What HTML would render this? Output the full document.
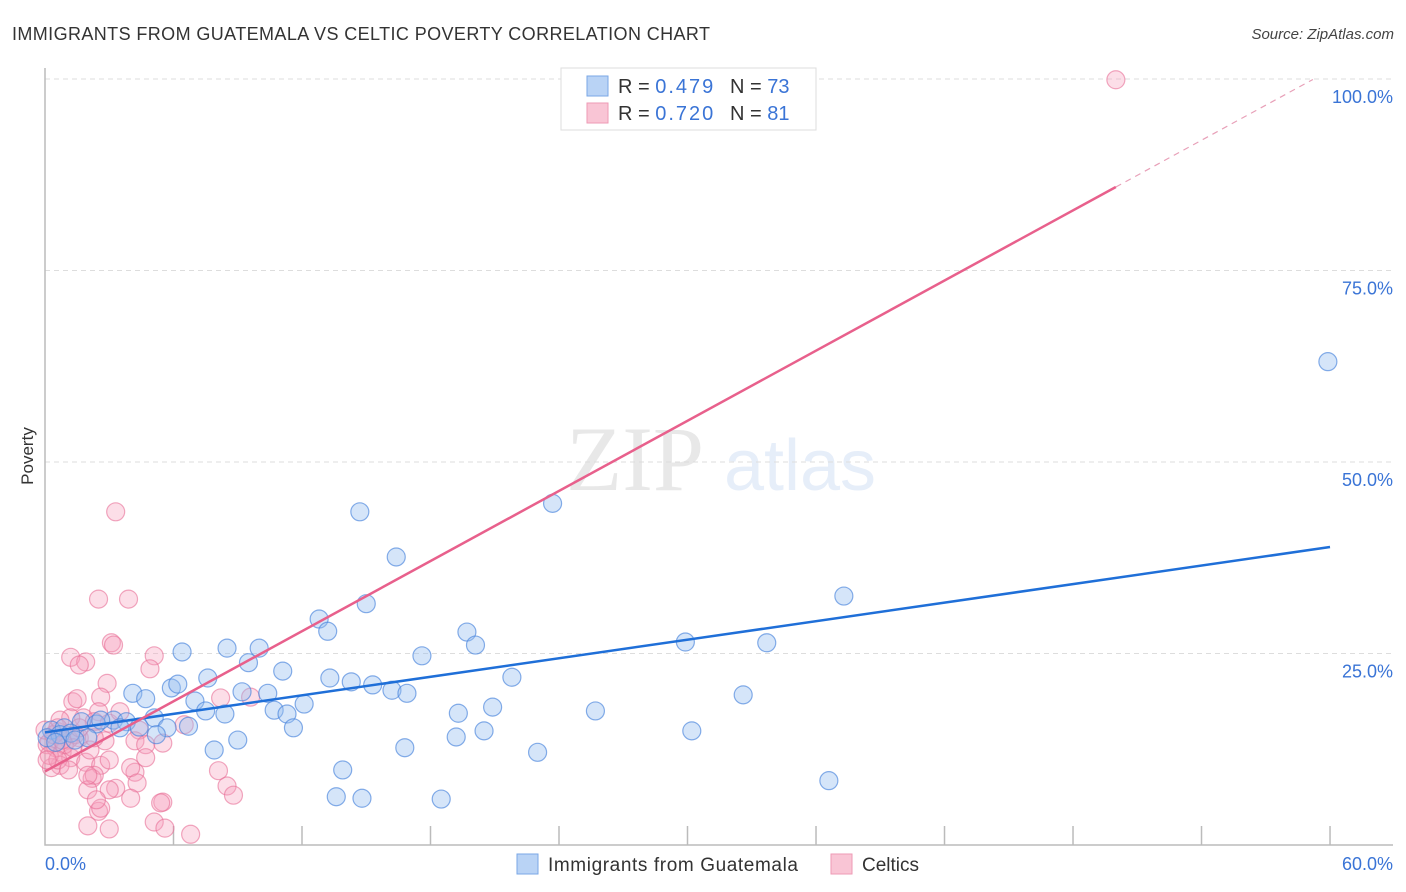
<!DOCTYPE html>
<html><head><meta charset="utf-8"><style>
body{margin:0;background:#fff;font-family:"Liberation Sans",sans-serif;}
svg{display:block}
</style></head><body>
<svg id="chart" width="1406" height="892" xmlns="http://www.w3.org/2000/svg">
<text x="12" y="40" font-size="18" fill="#333" textLength="698" lengthAdjust="spacing">IMMIGRANTS FROM GUATEMALA VS CELTIC POVERTY CORRELATION CHART</text>
<text x="1394" y="39" font-size="15" fill="#444" text-anchor="end" font-style="italic">Source: ZipAtlas.com</text>
<text transform="translate(33,456) rotate(-90)" font-size="17" fill="#333" text-anchor="middle">Poverty</text>
<g opacity="0.13">
<text x="635" y="490" font-size="92" fill="#555" font-family="Liberation Serif, serif" text-anchor="middle">ZIP</text>
<text x="800" y="490" font-size="72" fill="#4a7fd4" text-anchor="middle">atlas</text>
</g>
<g id="grid"></g>
<g id="axes"></g>
<g id="marks"></g>
<g>
<rect x="561" y="68" width="255" height="62" fill="#fff" stroke="#ddd"/>
<rect x="587" y="76" width="21" height="20" fill="#b9d3f5" stroke="#7aa7e6"/>
<rect x="587" y="103" width="21" height="20" fill="#f9c5d5" stroke="#ee9ab5"/>
<text x="618" y="93" font-size="20" fill="#333">R = <tspan fill="#3a74d6" textLength="58">0.479</tspan></text>
<text x="730" y="93" font-size="20" fill="#333">N = <tspan fill="#3a74d6">73</tspan></text>
<text x="618" y="120" font-size="20" fill="#333">R = <tspan fill="#3a74d6" textLength="58">0.720</tspan></text>
<text x="730" y="120" font-size="20" fill="#333">N = <tspan fill="#3a74d6"> 81</tspan></text>
</g>
<g>
<rect x="517" y="854" width="21" height="20" fill="#b9d3f5" stroke="#7aa7e6"/>
<text x="548" y="871" font-size="19" fill="#333" textLength="250" lengthAdjust="spacing">Immigrants from Guatemala</text>
<rect x="831" y="854" width="21" height="20" fill="#f9c5d5" stroke="#ee9ab5"/>
<text x="862" y="871" font-size="19" fill="#333">Celtics</text>
</g>
</svg>
<script>
const blueX=[59.9,23.7,14.7,16.4,37.3,15.0,12.8,13.2,19.7,20.1,29.9,33.7,8.5,10.0,6.4,17.6,9.5,7.6,11.1,21.8,13.3,14.3,15.3,4.1,5.9,6.2,9.2,10.4,16.2,16.9,4.7,32.6,7.0,12.1,10.7,7.5,8.4,11.3,19.3,20.9,25.7,5.1,3.2,3.8,1.7,2.4,2.6,5.7,3.5,6.7,11.6,4.4,0.3,0.9,5.2,20.5,19.2,30.2,9.0,2.0,7.9,16.8,23.0,13.9,36.6,13.6,14.8,18.5,0.7,0.1,1.2,1.4,0.5];
const blueY=[63.1,44.6,43.5,37.6,32.5,31.5,29.5,27.9,27.8,26.1,26.5,26.4,25.7,25.7,25.2,24.7,23.8,21.8,22.7,21.9,21.8,21.3,20.9,19.8,20.5,21.0,20.0,19.8,20.2,19.8,19.1,19.6,18.8,18.4,17.6,17.5,17.1,17.1,17.2,18.0,17.5,16.6,16.3,16.1,16.1,15.8,16.3,15.3,15.3,15.5,15.3,15.4,15.0,15.3,14.4,14.9,14.1,14.9,13.7,14.0,12.4,12.7,12.1,9.8,8.4,6.3,6.1,6.0,14.4,14.0,14.6,13.7,13.4];
const pinkX=[50.0,3.3,2.5,3.9,3.1,3.2,1.2,1.9,1.6,5.1,4.9,2.9,2.6,1.3,1.5,8.2,9.6,2.5,1.8,1.2,2.3,3.0,6.5,4.4,2.8,4.2,1.6,1.1,0.6,0.2,0.1,0.5,0.8,1.2,1.9,0.7,0.3,0.0,0.2,2.1,2.6,2.2,4.2,4.0,2.3,3.3,4.3,2.0,8.1,8.5,8.8,4.0,5.5,5.4,2.5,2.6,2.0,3.0,5.1,5.6,6.8,4.7,0.7,1.4,0.9,0.6,1.6,3.5,2.3,0.4,3.0,1.1,4.7,5.5,2.0,3.0,2.4,0.6,1.3,0.1,0.8];
const pinkY=[99.9,43.5,32.1,32.1,26.4,26.1,24.5,23.9,23.5,24.7,23.0,21.1,19.3,18.7,19.1,19.2,19.3,17.4,16.6,16.6,16.1,15.9,15.7,15.0,13.6,13.6,14.0,13.8,14.8,13.4,13.1,12.7,12.1,11.4,10.8,10.4,10.1,15.0,11.7,12.4,10.4,8.7,9.5,10.1,9.1,7.4,8.1,7.2,9.7,7.7,6.5,6.1,5.6,5.5,4.4,4.8,2.5,2.1,3.0,2.2,1.4,13.1,16.3,14.4,13.1,11.1,15.3,17.4,14.0,14.4,11.1,9.8,11.4,13.3,9.1,7.2,5.9,15.3,12.7,11.1,13.7];
const blueTrendX=[0,60];
const blueTrendY=[14.7,38.9];
const pinkTrendX=[0,50];
const pinkTrendY=[9.6,85.9];
const pinkDashEndX=59.2;
const yTicks=[25,50,75,100];
const yTickLabels=["25.0%","50.0%","75.0%","100.0%"];
const xTicks=[0,6,12,18,24,30,36,42,48,54,60];

const NS="http://www.w3.org/2000/svg";
const sx=v=>45+v*21.417;
const sy=v=>845-v*7.66;
function mk(tag,attrs,parent){const e=document.createElementNS(NS,tag);for(const k in attrs)e.setAttribute(k,attrs[k]);parent.appendChild(e);return e;}
const grid=document.getElementById('grid'),axes=document.getElementById('axes'),marks=document.getElementById('marks');
yTicks.forEach((t,i)=>{
  const l=mk('line',{x1:45,x2:1393,y1:sy(t),y2:sy(t),stroke:'#ddd','stroke-dasharray':'5,4'},grid);
  
  
  const tx=mk('text',{x:1393,y:sy(t)+24,'font-size':18,fill:'#3a74d6','text-anchor':'end'},axes);
  tx.textContent=yTickLabels[i];
  
  
});
const ax=mk('path',{d:'M45 68 V845 H1393',fill:'none',stroke:'#bbb','stroke-width':1.5},axes);


xTicks.slice(1).forEach(t=>{
  const l=mk('line',{x1:sx(t),x2:sx(t),y1:826,y2:845,stroke:'#bbb','stroke-width':1.5},axes);
  
  
});
const x0=mk('text',{x:45,y:870,'font-size':18,fill:'#3a74d6'},axes);x0.textContent='0.0%';


const x1=mk('text',{x:1393,y:870,'font-size':18,fill:'#3a74d6','text-anchor':'end'},axes);x1.textContent='60.0%';



pinkX.forEach((x,i)=>{
  const c=mk('circle',{cx:sx(x),cy:sy(pinkY[i]),r:9,fill:'rgba(245,160,190,0.35)',stroke:'rgba(232,110,150,0.6)','stroke-width':1.2},marks);
  
  
});
blueX.forEach((x,i)=>{
  const c=mk('circle',{cx:sx(x),cy:sy(blueY[i]),r:9,fill:'rgba(150,190,240,0.4)',stroke:'rgba(70,130,220,0.65)','stroke-width':1.2},marks);
  
  
});
const bl=mk('line',{x1:sx(blueTrendX[0]),y1:sy(blueTrendY[0]),x2:sx(blueTrendX[1]),y2:sy(blueTrendY[1]),stroke:'#1f6fd8','stroke-width':2.5},marks);


const pl=mk('line',{x1:sx(pinkTrendX[0]),y1:sy(pinkTrendY[0]),x2:sx(pinkTrendX[1]),y2:sy(pinkTrendY[1]),stroke:'#e8608c','stroke-width':2.5},marks);


const slope=(pinkTrendY[1]-pinkTrendY[0])/(pinkTrendX[1]-pinkTrendX[0]);
const pd=mk('line',{x1:sx(pinkTrendX[1]),y1:sy(pinkTrendY[1]),x2:sx(pinkDashEndX),y2:sy(pinkTrendY[0]+slope*pinkDashEndX),stroke:'#e8a0b8','stroke-width':1.2,'stroke-dasharray':'6,5'},marks);


</script>
</body></html>
